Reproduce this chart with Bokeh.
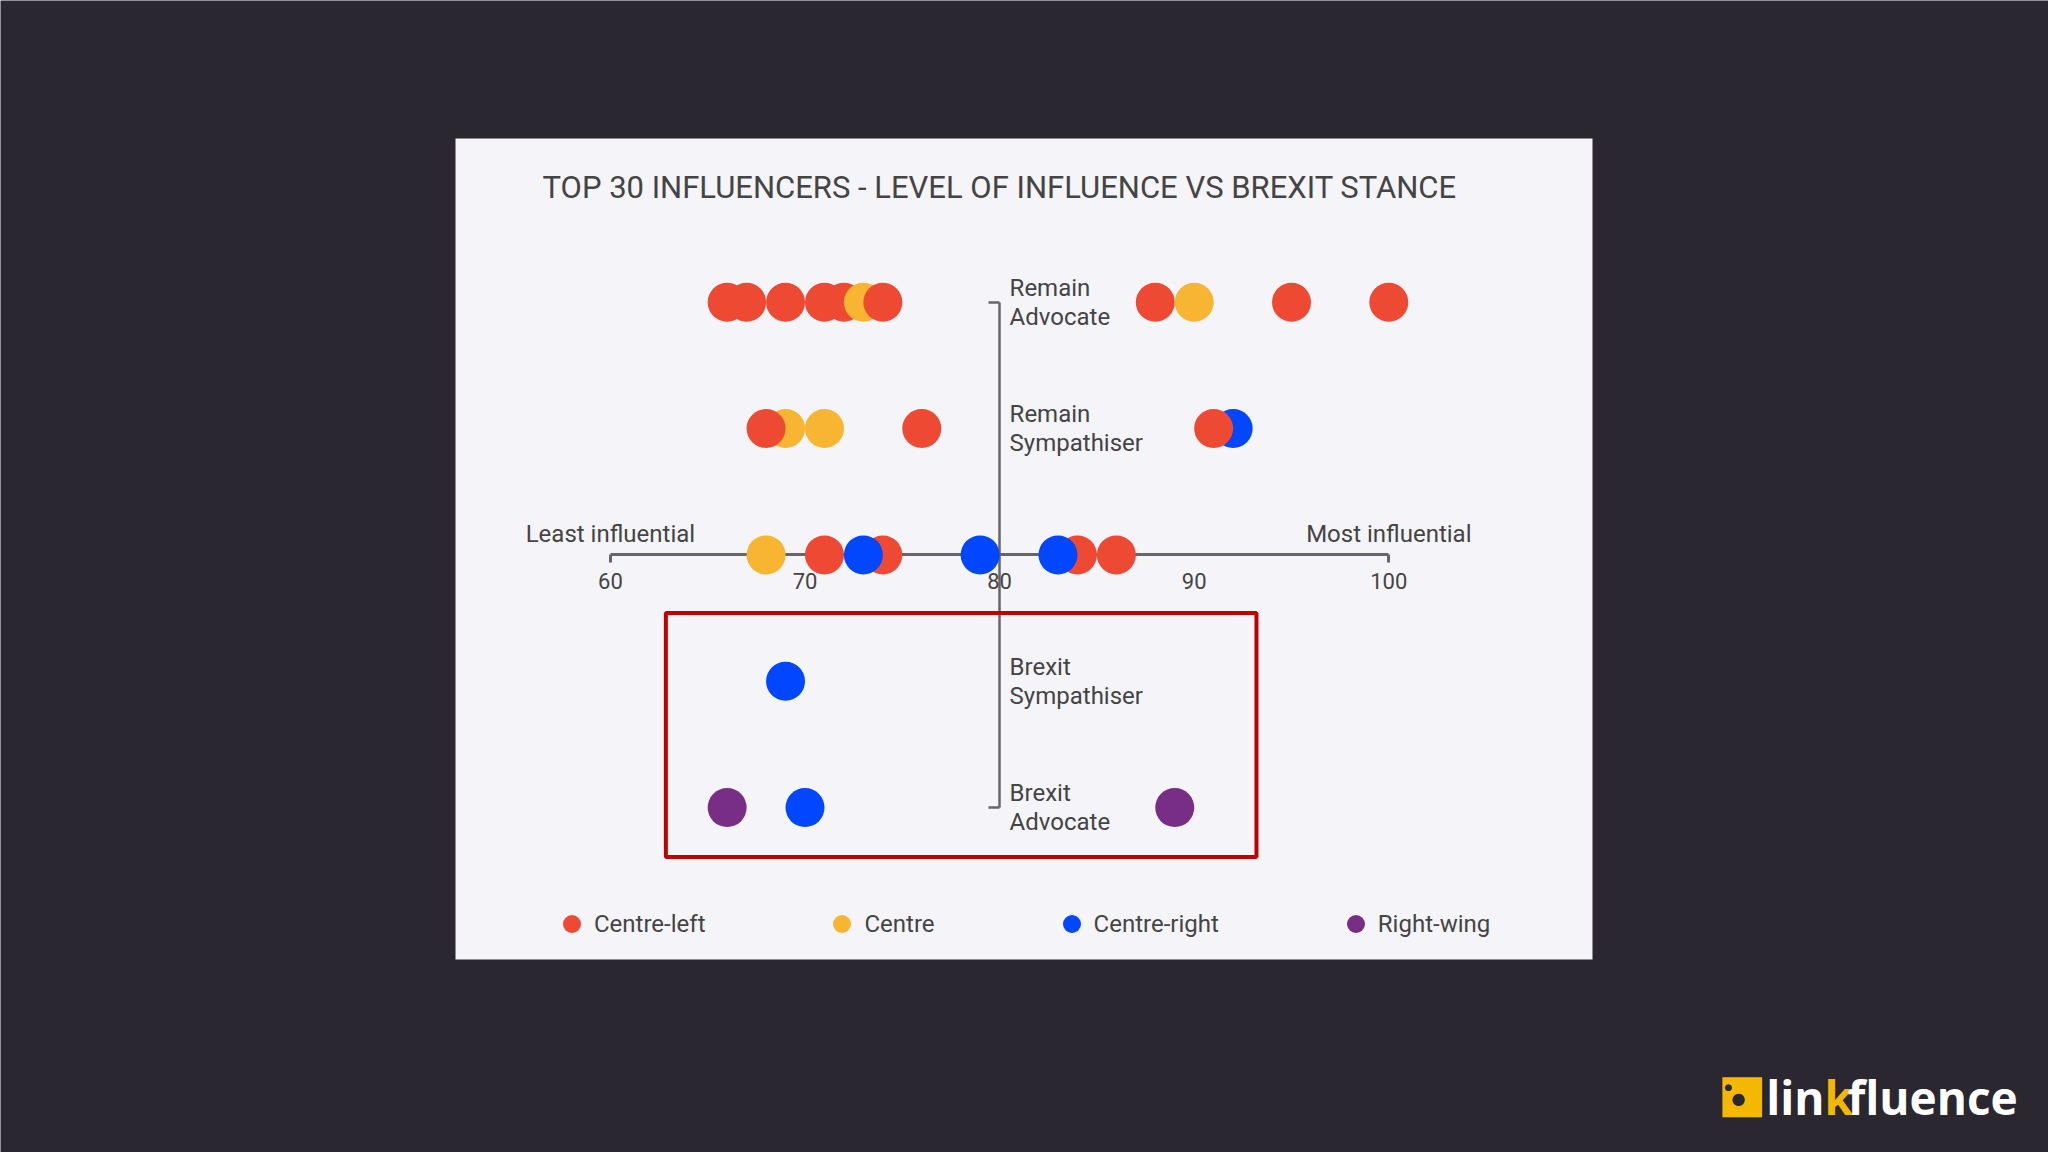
from bokeh.plotting import figure
from bokeh.models import (LinearAxis, FixedTicker, Label, BoxAnnotation, Legend,
                          LegendItem, ColumnDataSource, Range1d)
from bokeh.transform import factor_cmap
from bokeh.embed import file_html
from bokeh.resources import INLINE

# ---------------- data ----------------
TITLE = "TOP 30 INFLUENCERS - LEVEL OF INFLUENCE VS BREXIT STANCE"
parties = ["Centre-left", "Centre", "Centre-right", "Right-wing"]
party_colors = ["#EE4932", "#F8B531", "#0047FF", "#782E84"]

stance_ticks = [2, 1, -1, -2]
stance_names = ["Remain\nAdvocate", "Remain\nSympathiser", "Brexit\nSympathiser", "Brexit\nAdvocate"]
influence_ticks = [60, 70, 80, 90, 100]
influence_ends = [60, 100]
end_labels = ["Least influential", "Most influential"]

influence = [66, 67, 69, 71, 72, 73, 74, 88, 90, 95, 100,
             69, 68, 71, 76, 92, 91,
             68, 71, 74, 73, 79, 84, 86, 83,
             69,
             66, 70, 89]
stance = [2, 2, 2, 2, 2, 2, 2, 2, 2, 2, 2,
          1, 1, 1, 1, 1, 1,
          0, 0, 0, 0, 0, 0, 0, 0,
          -1,
          -2, -2, -2]
party = ["Centre-left", "Centre-left", "Centre-left", "Centre-left", "Centre-left", "Centre",
         "Centre-left", "Centre-left", "Centre", "Centre-left", "Centre-left",
         "Centre", "Centre-left", "Centre", "Centre-left", "Centre-right", "Centre-left",
         "Centre", "Centre-left", "Centre-left", "Centre-right", "Centre-right",
         "Centre-left", "Centre-left", "Centre-right",
         "Centre-right",
         "Right-wing", "Centre-right", "Right-wing"]

# highlighted Brexit area (data units)
highlight = dict(left=62.85, right=93.2, top=-0.46, bottom=-2.39)

FONT = "Roboto"
TEXT = "#444444"
AXIS = "#666666"
PAGE_BG = "#2A2731"
PANEL_BG = "#F5F4F8"
LOGO_YELLOW = "#F5B800"

W, H = 2048, 1152


# pixel position on the page -> data units (60 at x=610, 19.46 px per point;
# stance rows 126.35 px apart, "Remain Advocate" at y=301.7)
def px_x(X):
    return 60 + (X - 609.9) / 19.46


def px_y(Y):
    return 2 - (Y - 301.7) / 126.35


p = figure(width=W, height=H, output_backend="svg", toolbar_location=None,
           x_range=Range1d(px_x(0), px_x(W)), y_range=Range1d(px_y(H), px_y(0)),
           x_axis_type=None, y_axis_type=None, min_border=0,
           background_fill_color=PAGE_BG, border_fill_color=PAGE_BG,
           outline_line_color=None)

# white panel
p.add_layout(BoxAnnotation(left=px_x(455), right=px_x(1592), top=px_y(138), bottom=px_y(959),
                           fill_color=PANEL_BG, fill_alpha=1, line_color=None, level="image"))

# axes: horizontal (influence) through stance 0
x_line = LinearAxis(fixed_location=0, bounds=(60, 100), ticker=FixedTicker(ticks=influence_ends),
                    axis_line_width=3, axis_line_color=AXIS,
                    major_tick_line_width=3, major_tick_line_color=AXIS,
                    major_tick_in=0, major_tick_out=8,
                    minor_tick_line_color=None, major_label_text_color=None)
x_line.level = "underlay"
p.add_layout(x_line, "below")

x_lab = LinearAxis(fixed_location=0, ticker=FixedTicker(ticks=influence_ticks),
                   axis_line_color=None, major_tick_line_color=None, minor_tick_line_color=None,
                   major_tick_in=0, major_tick_out=0, major_label_standoff=18,
                   major_label_text_font=FONT, major_label_text_font_size="22px",
                   major_label_text_color=TEXT)
p.add_layout(x_lab, "below")

# vertical (stance) through influence 80
y_line = LinearAxis(fixed_location=80, bounds=(-2, 2), ticker=FixedTicker(ticks=[-2, 2]),
                    axis_line_width=2.5, axis_line_color=AXIS,
                    major_tick_line_width=2.5, major_tick_line_color=AXIS,
                    major_tick_in=11, major_tick_out=0,
                    minor_tick_line_color=None, major_label_text_color=None)
y_line.level = "underlay"
p.add_layout(y_line, "right")

y_lab = LinearAxis(fixed_location=80, ticker=FixedTicker(ticks=stance_ticks),
                   major_label_overrides={float(t): n for t, n in zip(stance_ticks, stance_names)},
                   axis_line_color=None, major_tick_line_color=None, minor_tick_line_color=None,
                   major_tick_in=0, major_tick_out=0, major_label_standoff=10,
                   major_label_text_font=FONT, major_label_text_font_size="24px",
                   major_label_text_color=TEXT, major_label_text_line_height=1.05)
p.add_layout(y_lab, "right")

# highlight box
p.add_layout(BoxAnnotation(fill_alpha=0, line_color="#C00000", line_alpha=1, line_width=4,
                           **highlight))

# points
src = ColumnDataSource(dict(influence=influence, stance=stance, party=party))
r = p.scatter("influence", "stance", source=src, size=39, line_color=None,
              fill_color=factor_cmap("party", party_colors, parties))

# end labels of the influence axis
for xv, txt in zip(influence_ends, end_labels):
    p.add_layout(Label(x=xv, y=0, y_offset=21, text=txt, text_align="center",
                       text_baseline="alphabetic", text_font=FONT, text_font_size="24px",
                       text_color=TEXT))

# title
p.add_layout(Label(x=80, y=px_y(187), text=TITLE, text_align="center", text_baseline="middle",
                   text_font=FONT, text_font_size="31px", text_color=TEXT))

# legend
items = [LegendItem(label=name, renderers=[r], index=party.index(name)) for name in parties]
legend = Legend(items=items, orientation="horizontal", location=(549, 206),
                glyph_width=45, glyph_height=45, label_standoff=0, spacing=114,
                padding=0, margin=0, border_line_color=None, background_fill_alpha=0,
                label_text_font=FONT, label_text_font_size="24px", label_text_color=TEXT,
                label_height=45)
p.add_layout(legend)

# logo
p.add_layout(Label(x=px_x(1717), y=px_y(1092), text="■", text_font="DejaVu Sans",
                   text_font_size="52px", text_color=LOGO_YELLOW, text_baseline="alphabetic"))
p.add_layout(Label(x=px_x(1738), y=px_y(1098), text="●", text_font="DejaVu Sans",
                   text_font_size="16px", text_color=PAGE_BG, text_align="center",
                   text_baseline="middle"))
p.add_layout(Label(x=px_x(1728), y=px_y(1086), text="●", text_font="DejaVu Sans",
                   text_font_size="9px", text_color=PAGE_BG, text_align="center",
                   text_baseline="middle"))
p.add_layout(Label(x=px_x(1824), y=px_y(1096), text="lin", text_align="right",
                   text_font="Open Sans", text_font_style="bold", text_font_size="46px",
                   text_color="#FFFFFF", text_baseline="alphabetic"))
p.add_layout(Label(x=px_x(1824), y=px_y(1096), text="k",
                   text_font="Open Sans", text_font_style="bold", text_font_size="46px",
                   text_color=LOGO_YELLOW, text_baseline="alphabetic"))
p.add_layout(Label(x=px_x(1847), y=px_y(1096), text="fluence",
                   text_font="Open Sans", text_font_style="bold", text_font_size="46px",
                   text_color="#FFFFFF", text_baseline="alphabetic"))

html = file_html(p, INLINE, title="Top 30 influencers")
html = html.replace("<body>", '<body style="background-color:#2A2731;">', 1)
open("out.html", "w").write(html)
